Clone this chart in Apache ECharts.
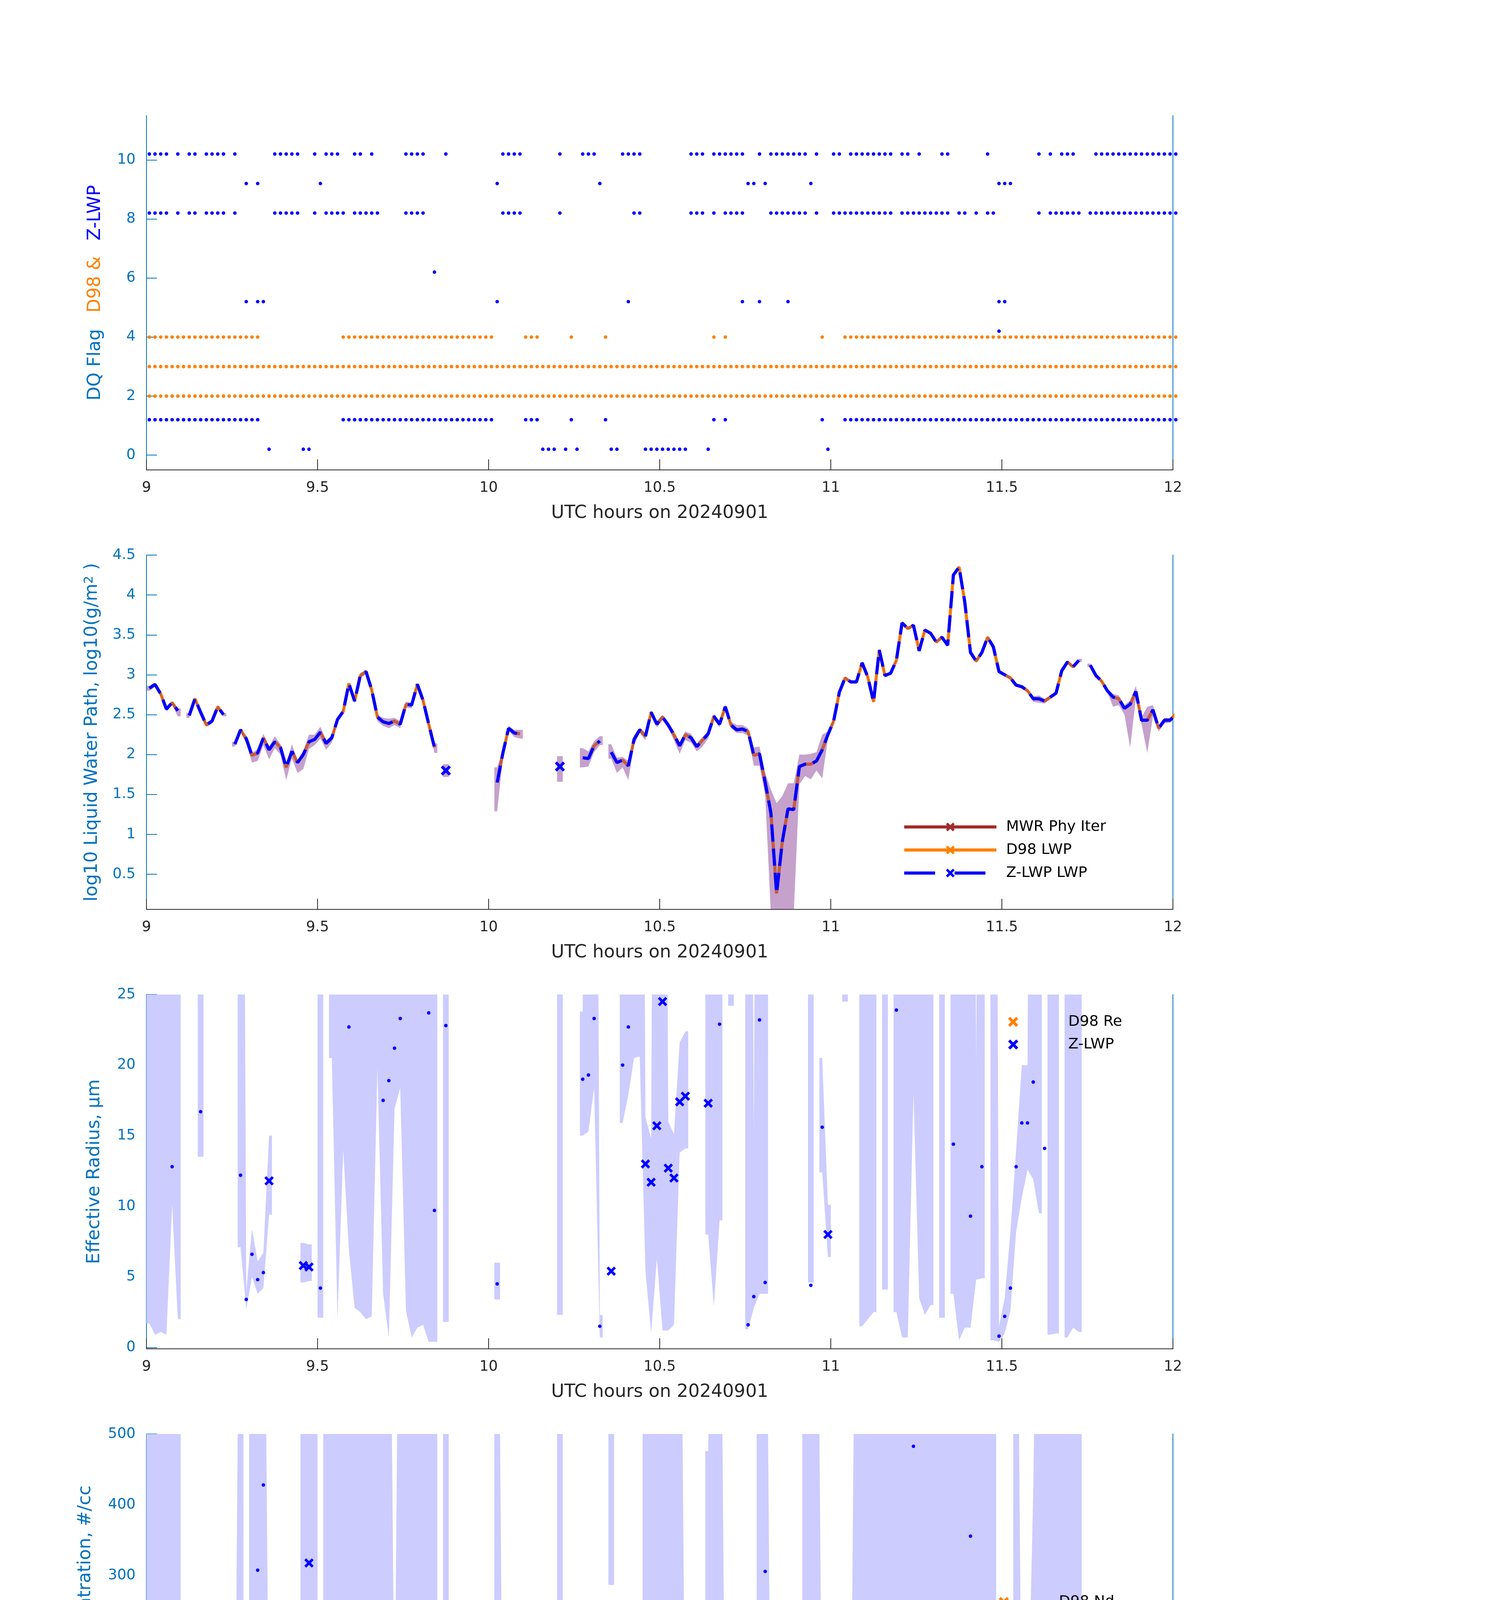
<!DOCTYPE html>
<html>
<head>
<meta charset="utf-8">
<script src="https://cdn.jsdelivr.net/npm/echarts@6.0.0/dist/echarts.min.js"></script>
<style>
  html, body { margin: 0; padding: 0; background: #fff; }
  #main { width: 3825px; height: 6000px; }
</style>
</head>
<body>
<div id="main"></div>
<script>
// samples are one per minute from 09:00 UTC, drawn at the middle of each minute
var START_HOUR = 9;

// ---- panel 1: data quality flags, as runs of minute indices per flag level ----
var zFlag10Runs = [[0,3],[5,5],[7,8],[10,13],[15,15],[22,26],[29,29],[31,33],[36,37],[39,39],[45,48],[52,52],[62,65],[72,72],[76,78],[83,86],[95,97],[99,104],[107,107],[109,115],[117,117],[120,121],[123,130],[132,133],[135,135],[139,140],[147,147],[156,156],[158,158],[160,162],[166,180]];
var zFlag9Runs = [[17,17],[19,19],[30,30],[61,61],[79,79],[105,106],[108,108],[116,116],[149,151]];
var zFlag8Runs = [[0,3],[5,5],[7,8],[10,13],[15,15],[22,26],[29,29],[31,34],[36,40],[45,48],[62,65],[72,72],[85,86],[95,97],[99,99],[101,104],[109,115],[117,117],[120,130],[132,140],[142,143],[145,145],[147,148],[156,156],[158,163],[165,180]];
var zFlag6Runs = [[50,50]];
var zFlag5Runs = [[17,17],[19,20],[61,61],[84,84],[104,104],[107,107],[112,112],[149,150]];
var zFlag4Runs = [[149,149]];
var zFlag1Runs = [[0,19],[34,60],[66,68],[74,74],[80,80],[99,99],[101,101],[118,118],[122,180]];
var zFlag0Runs = [[21,21],[27,28],[69,71],[73,73],[75,75],[81,82],[87,94],[98,98],[119,119]];
var d98Flag4Runs = [[0,19],[34,60],[66,68],[74,74],[80,80],[99,99],[101,101],[118,118],[122,180]];
var d98Flag3Runs = [[0,180]];
var d98Flag2Runs = [[0,180]];
var Z_FLAG_SHIFT = 0.2;

// ---- panel 2: log10 LWP (same retrieval shown for D98 and Z-LWP) ----
var lwpLog = [
  2.83,2.88,2.76,2.57,2.65,2.55,null,2.49,2.70,2.53,
  2.37,2.42,2.60,2.50,null,2.13,2.31,2.20,1.99,2.02,
  2.21,2.06,2.16,2.09,1.84,2.04,1.90,2.00,2.16,2.19,
  2.28,2.14,2.21,2.44,2.54,2.89,2.67,2.99,3.04,2.81,
  2.47,2.41,2.39,2.42,2.38,2.63,2.62,2.88,2.68,2.38,
  2.09,null,1.80,null,null,null,null,null,null,null,
  null,1.65,2.02,2.33,2.27,2.26,null,null,null,null,
  null,null,1.85,null,null,null,1.96,1.95,2.11,2.17,
  null,2.03,1.90,1.93,1.86,2.19,2.31,2.23,2.53,2.38,
  2.47,2.37,2.25,2.11,2.25,2.21,2.10,2.18,2.26,2.48,
  2.38,2.60,2.37,2.31,2.32,2.29,1.99,2.01,1.65,1.27,
  0.26,0.91,1.32,1.31,1.85,1.88,1.88,1.92,2.06,2.25,
  2.42,2.78,2.96,2.91,2.91,3.15,2.97,2.66,3.31,2.99,
  3.02,3.18,3.65,3.58,3.62,3.30,3.56,3.52,3.41,3.47,
  3.37,4.25,4.35,3.91,3.28,3.17,3.28,3.47,3.35,3.04,
  3.00,2.96,2.87,2.85,2.80,2.70,2.70,2.67,2.72,2.77,
  3.05,3.16,3.10,3.18,null,3.12,2.99,2.92,2.80,2.72,
  2.70,2.58,2.63,2.79,2.43,2.43,2.56,2.33,2.43,2.43,
  2.51
];
// uncertainty band: [minute, low, high]
var lwpBand = [
  [0,2.80,2.86],[1,2.85,2.90],[2,2.73,2.78],[3,2.54,2.60],[4,2.62,2.67],[5,2.48,2.58],
  [7,2.46,2.52],[8,2.67,2.72],[9,2.50,2.55],[10,2.35,2.40],[11,2.39,2.44],[12,2.57,2.62],[13,2.48,2.52],
  [15,2.10,2.16],[16,2.28,2.33],[17,2.14,2.22],[18,1.90,2.02],[19,1.92,2.07],[20,2.12,2.26],[21,1.94,2.10],
  [22,2.08,2.23],[23,2.00,2.13],[24,1.68,1.88],[25,1.95,2.13],[26,1.77,1.93],[27,1.82,2.05],[28,2.07,2.25],
  [29,2.12,2.25],[30,2.20,2.35],[31,2.06,2.18],[32,2.15,2.25],[33,2.40,2.47],[34,2.51,2.57],[35,2.86,2.91],
  [36,2.64,2.70],[37,2.96,3.02],[38,3.01,3.06],[39,2.78,2.84],[40,2.42,2.50],[41,2.36,2.46],[42,2.33,2.45],
  [43,2.37,2.46],[44,2.33,2.42],[45,2.59,2.66],[46,2.58,2.65],[47,2.85,2.90],[48,2.64,2.71],[49,2.34,2.42],
  [50,2.02,2.14],
  [52,1.72,1.88],
  [61,1.29,1.84],[62,1.95,2.06],[63,2.30,2.36],[64,2.22,2.31],[65,2.20,2.31],
  [72,1.66,1.98],
  [76,1.84,2.08],[77,1.85,2.04],[78,2.03,2.17],[79,2.12,2.23],
  [81,1.95,2.13],[82,1.77,1.96],[83,1.84,1.97],[84,1.68,1.92],[85,2.12,2.24],[86,2.27,2.34],[87,2.18,2.27],
  [88,2.49,2.56],[89,2.34,2.42],[90,2.43,2.50],[91,2.33,2.40],[92,2.18,2.28],[93,2.01,2.15],[94,2.18,2.29],
  [95,2.15,2.26],[96,2.04,2.14],[97,2.10,2.22],[98,2.20,2.30],[99,2.44,2.51],[100,2.34,2.42],[101,2.56,2.63],
  [102,2.33,2.41],[103,2.27,2.37],[104,2.27,2.37],[105,2.24,2.33],[106,1.86,2.09],[107,1.86,2.10],
  [108,1.49,1.77],[109,0.00,1.56],[110,0.00,1.39],[111,0.00,1.48],[112,0.00,1.64],[113,0.00,1.64],
  [114,1.63,2.00],[115,1.73,2.00],[116,1.69,2.01],[117,1.80,2.03],[118,1.70,2.25],[119,2.20,2.29],
  [120,2.38,2.45],[121,2.74,2.81],[122,2.94,2.98],[123,2.89,2.93],[124,2.89,2.93],[125,3.13,3.17],
  [126,2.95,2.99],[127,2.64,2.68],[128,3.29,3.33],[129,2.97,3.01],[130,3.00,3.04],[131,3.16,3.20],
  [132,3.63,3.67],[133,3.56,3.60],[134,3.60,3.64],[135,3.28,3.32],[136,3.54,3.58],[137,3.50,3.54],
  [138,3.39,3.43],[139,3.45,3.49],[140,3.35,3.39],[141,4.23,4.27],[142,4.33,4.37],[143,3.89,3.93],
  [144,3.26,3.30],[145,3.15,3.19],[146,3.26,3.30],[147,3.45,3.49],[148,3.33,3.37],[149,3.02,3.06],
  [150,2.98,3.02],[151,2.94,2.98],[152,2.85,2.89],[153,2.83,2.87],[154,2.78,2.82],[155,2.66,2.73],
  [156,2.65,2.74],[157,2.64,2.70],[158,2.70,2.74],[159,2.75,2.79],[160,3.03,3.07],[161,3.14,3.18],
  [162,3.08,3.12],[163,3.16,3.20],
  [165,3.10,3.14],[166,2.97,3.01],[167,2.90,2.94],[168,2.78,2.82],[169,2.60,2.76],[170,2.62,2.74],
  [171,2.50,2.62],[172,2.09,2.68],[173,2.70,2.86],[174,2.38,2.47],[175,2.02,2.60],[176,2.48,2.62],
  [177,2.29,2.37],[178,2.39,2.46],[179,2.40,2.46],[180,2.47,2.54]
];

// ---- panel 3: effective radius (um); [minute, value] ----
var reDots = [[4,12.8],[9,16.7],[16,12.2],[17,3.4],[18,6.6],[19,4.8],[20,5.3],[30,4.2],[35,22.7],[41,17.5],[42,18.9],[43,21.2],[44,23.3],[49,23.7],[50,9.7],[52,22.8],[61,4.5],[76,19.0],[77,19.3],[78,23.3],[79,1.5],[83,20.0],[84,22.7],[100,22.9],[105,1.6],[106,3.6],[107,23.2],[108,4.6],[116,4.4],[118,15.6],[131,23.9],[141,14.4],[144,9.3],[146,12.8],[149,0.8],[150,2.2],[151,4.2],[152,12.8],[153,15.9],[154,15.9],[155,18.8],[157,14.1]];
var reCross = [[21,11.8],[27,5.8],[28,5.7],[81,5.4],[87,13.0],[88,11.7],[89,15.7],[90,24.5],[91,12.7],[92,12.0],[93,17.4],[94,17.8],[98,17.3],[119,8.0]];
var reBand = [
  [0,1.7,99],[1,0.9,99],[2,1.1,99],[3,0.9,99],[4,10.1,99],[5,2.0,99],
  [9,13.5,99],
  [16,7.1,99],[17,2.7,4.0],[18,5.0,8.4],[19,3.8,6.1],[20,4.2,6.7],[21,9.4,15.0],
  [27,4.6,7.4],[28,4.7,7.3],
  [30,2.1,99],
  [32,20.5,99],[33,2.0,99],[34,14,99],[35,6.9,99],[36,2.8,99],[37,2.5,99],[38,2.0,99],[39,2.2,99],
  [40,19.8,99],[41,3.8,99],[42,0.7,99],[43,16.9,99],[44,18.4,99],[45,2.6,99],[46,0.7,99],[47,1.4,99],
  [48,1.6,99],[49,0.4,99],[50,0.4,99],
  [52,1.8,99],
  [61,3.4,6.0],
  [72,2.3,99],
  [76,15.0,23.8],[77,15.3,99],[78,18.4,99],[79,0.7,2.3],
  [83,15.9,99],[84,17.9,99],[85,20.5,99],[86,20.6,99],[87,5.4,16.3],[88,1.0,14.8],[89,6.3,99],
  [90,1.2,99],[91,1.2,16.0],[92,1.6,15.1],[93,13.8,21.6],[94,14.1,22.4],
  [98,8.0,99],[99,2.9,99],[100,9,99],
  [102,24.2,99],
  [105,1.3,99],[106,2.8,15],[107,3.8,99],[108,3.8,99],
  [116,4.6,99],
  [118,12.4,20.5],[119,6.4,10.1],
  [122,24.5,99],
  [125,1.5,99],[126,2.0,99],[127,2.5,99],
  [129,4.1,99],
  [131,2.5,99],[132,0.7,99],[133,0.7,99],[134,18.0,99],[135,3.5,99],[136,2.3,99],[137,3.0,99],
  [139,2.1,99],
  [141,3.8,99],[142,0.5,99],[143,1.4,99],[144,1.4,99],[145,4.8,20],[146,4.9,99],
  [148,0.5,99],[149,0.4,1.5],[150,1.0,3.5],[151,2.6,8.2],[152,8.2,14],[153,10.6,20.0],[154,12.6,20.0],
  [155,11.9,99],[156,9.5,99],
  [158,0.9,99],[159,1.0,99],
  [161,0.7,99],[162,1.4,99],[163,1.1,99]
];

// ---- panel 4: droplet concentration (#/cc) ----
var ndDots = [[0,3.5],[1,1.5],[2,0.4],[3,1.2],[4,192.6],[5,2],[7,0.4],[8,1.2],[9,34.4],[10,2.3],[11,0.4],[12,0.4],[13,0.4],[15,0.4],[16,60.7],[18,71.2],[19,307.8],[20,428],[22,0.4],[23,0.4],[24,0.4],[25,0.4],[26,0.4],[29,0.4],[31,0.4],[32,1.5],[33,0.4],[34,14.7],[35,64],[36,0.4],[37,0.4],[38,50],[39,0.4],[40,8.5],[41,36.3],[42,14.7],[43,34.8],[44,42.5],[45,0.4],[46,0.4],[47,1],[48,0.4],[49,20.9],[50,123],[52,3],[61,188.7],[62,0.4],[63,0.4],[64,0.4],[65,0.4],[72,0.4],[76,1.9],[77,3],[78,1.5],[83,1.2],[84,1.2],[85,1.2],[86,1.2],[95,0.4],[96,0.4],[97,0.4],[99,0.8],[100,5],[101,1.9],[102,1.9],[103,0.8],[104,0.8],[107,1.5],[108,306],[109,0.8],[110,0.8],[111,0.8],[112,0.4],[113,0.4],[114,0.4],[115,0.4],[117,0.4],[118,7.7],[120,1.9],[121,1.9],[122,25.5],[123,3],[124,0.4],[125,1.5],[126,0.4],[127,0.4],[128,1.2],[129,0.4],[130,0.4],[131,178],[132,1.9],[133,1.9],[134,482.6],[135,0.8],[136,12.8],[137,41],[138,44.9],[139,1.2],[140,1.2],[142,50.7],[143,7.3],[144,355.8],[145,44.9],[147,1.9],[148,14.7],[152,41.4],[153,16.6],[154,16.6],[155,12.8],[156,1.2],[158,0.4],[160,0.4],[161,0.4],[162,1.2],[163,58.8],[165,26.7],[166,0.4],[167,1.2],[168,1.2],[169,1.5],[170,1.9],[171,1.5],[172,1.2],[173,1.2],[174,0.4],[175,0.4],[176,0.4],[177,0.4],[178,0.4],[179,0.4],[180,0.4]];
var ndCross = [[21,10.8],[27,248.6],[28,318],[87,20],[88,47],[89,19],[90,13.5],[91,36.3],[92,19],[93,16],[94,7.3],[98,22.8],[119,107]];
var ndBand = [
  [0,0.5,999],[1,0.5,999],[2,0.5,999],[3,0.5,999],[4,0.5,999],[5,0.5,999],
  [8,0.5,1.5],[9,0.5,68],[10,0.5,1.5],
  [15,0.5,1.5],[16,30,999],
  [18,35,999],[19,146,999],[20,205,999],[21,0,22],
  [27,102,999],[28,153,999],[29,10,999],
  [31,37,999],[32,0.5,999],[33,0.5,999],[34,0.5,999],[35,0.5,999],[36,0.5,999],[37,0.5,999],[38,0.5,999],
  [39,0.5,999],[40,0.5,999],[41,3,999],[42,5,999],[43,1,80],[44,1,999],[45,0.5,999],[46,0.5,999],
  [47,0.5,999],[48,0.5,999],[49,8.5,999],[50,60,999],
  [52,0,999],
  [61,36,999],[62,0.5,1.5],
  [72,0.5,999],
  [76,0.5,4],[77,0.5,5],[78,0.5,3],
  [81,287,999],
  [87,12,999],[88,18,999],[89,18,999],[90,14,999],[91,31.7,999],[92,16,999],[93,29.8,999],[94,1,12.4],[95,0.5,1],
  [98,0.5,476],[99,0.5,999],[100,0.5,999],[101,0.5,2],
  [107,0.5,999],[108,18,999],[109,0.5,1],
  [115,0.5,999],[116,262,999],[117,0.5,999],[118,0.5,18],[119,54,214],
  [121,0.5,1],[122,0.5,49],[123,0.5,2],
  [124,0.5,999],[125,0.5,999],[126,0.5,999],[127,0.5,999],[128,0.5,999],[129,0.5,999],[130,0.5,999],
  [131,0.5,999],[132,0.5,999],[133,0.5,999],[134,0.5,999],[135,0.5,999],[136,0.5,999],[137,0.5,999],
  [138,0.5,999],[139,0.5,999],[140,0.5,999],[141,0.5,999],[142,25,999],[143,3,999],[144,177,999],
  [145,22,999],[146,0.5,999],[147,0.5,999],[148,0.5,999],
  [152,14,999],[153,5,33],[154,3,60],[155,2,418],[156,0.5,999],[157,0.5,999],[158,0.5,999],
  [159,0.5,999],[160,0.5,999],[161,0.5,999],[162,0.5,999],[163,0.5,999],
  [165,0.5,53],[166,0.5,1]
];

// ---- panel 5: optical depth ----
var odDots = [[0,23.8],[1,19.8],[2,11.3],[3,12.8],[4,52.5],[5,15.6],[7,5.3],[8,12.9],[9,30.1],[10,10.8],[11,6.9],[12,7.5],[13,10.6],[15,4.3],[16,25.8],[17,71.4],[18,22.4],[19,34.6],[20,47.6],[22,5.3],[23,3.6],[24,2.7],[25,4.1],[26,2.3],[29,5.2],[30,69.8],[31,5.4],[32,8.2],[33,5.9],[34,17.1],[35,52.3],[36,9.1],[37,11.1],[38,45.6],[39,15],[40,17.7],[41,22.4],[42,21.3],[43,19.3],[44,15.8],[45,7.2],[46,11],[47,17.5],[48,14.2],[49,15],[50,20.1],[52,4.3],[61,15.2],[62,4.1],[63,5.4],[64,4.6],[65,4.6],[72,2.9],[76,7.4],[77,7.3],[78,8.4],[83,6.7],[84,4.9],[85,9.4],[86,11.8],[95,4.0],[96,3.2],[97,4.9],[99,9.1],[100,16.1],[101,16.1],[102,11.8],[103,6.3],[104,6.7],[106,39.2],[107,6.6],[108,12.5],[109,0.6],[110,0.1],[111,0.1],[112,0.2],[113,0.2],[114,1.2],[115,1.5],[116,25.6],[117,1.3],[118,11.1],[120,9.1],[121,16.2],[122,45.7],[123,31.7],[124,13.4],[125,28.2],[126,14.1],[127,5.3],[128,30.1],[129,12.3],[130,13.1],[133,78.6],[135,43.2],[139,53.5],[140,38.2],[145,92.4],[147,57.2],[148,69],[152,88.6],[153,68.1],[154,59.1],[155,42.2],[156,14.2],[157,51],[158,5.9],[159,20.2],[160,11.1],[161,16.1],[162,25.9],[163,68.6],[165,46.5],[166,15.4],[167,22.9],[168,24.1],[169,23.8],[170,24.2],[171,19.6],[172,18.8],[173,23.1],[174,6.5],[175,6.1],[176,9.1],[177,5.2],[178,5.2],[179,4.3],[180,8.2]];
var odCross = [[21,14.8],[27,26],[28,38.9],[81,31.2],[87,20],[88,43.8],[89,23.2],[90,18.4],[91,29.9],[92,20.8],[93,11.3],[94,15.5],[98,16.4],[119,31.7]];
var odBand = [
  [0,10.3,999],[1,13.4,999],[2,9.9,999],[3,7.2,999],[4,9.1,999],[5,9.9,999],
  [7,4.1,6.6],[8,8.7,16.5],[9,15.7,37.4],[10,8.4,13.4],[11,5.6,8.7],[12,6.0,9.5],[13,8.6,13.4],
  [15,3.7,5.3],[16,20,30],[17,54.4,89.7],[18,17.2,24],[19,24.2,35.8],[20,37.7,59.2],[21,10.4,19.9],
  [22,4.1,6.6],[23,2.8,4.5],[24,1.6,3.2],[25,2.8,5.2],[26,1.5,3.1],[27,14.7,39.4],[28,29.2,49.6],
  [29,4.2,6.3],[30,52,999],[31,4.9,7],[32,6.8,999],[33,4.9,999],[34,5.9,999],[35,23,999],[36,7.2,999],
  [37,9.4,999],[38,11.4,999],[39,11,999],[40,10.7,999],[41,15.7,999],[42,16,999],[43,15.7,24.2],
  [44,5.0,999],[45,5.8,999],[46,8.7,999],[47,13.8,999],[48,11.4,999],[49,11.4,999],[50,15.9,999],
  [52,3.4,50.4],
  [61,5.2,27.3],[62,3.8,4.8],[63,4.2,6.4],[64,4.0,5.7],[65,4.0,5.7],
  [72,1.7,46.3],
  [76,5.0,10.3],[77,5.3,9.4],[78,6.4,10.3],[79,6.8,999],
  [81,22.5,40.8],
  [83,3.6,8.6],[84,2.8,8.4],[85,6.6,11.8],[86,10.8,14.9],[87,15.7,48],[88,34.6,999],[89,19.6,999],
  [90,14.5,999],[91,23.8,999],[92,14.9,999],[93,8.4,15],[94,11.8,19.6],[95,3.6,5.1],[96,3.1,4.2],
  [97,3.9,6.1],[98,5.8,35.2],[99,7.3,999],[100,8.4,999],[101,13,20],[102,8.7,14.9],[103,5.1,8.1],
  [104,5.5,8.6],[105,10,999],[106,25,999],[107,4.3,20],[108,1.8,26.1],[109,0,1.5],[110,0,0.6],
  [111,0,0.3],[112,0,0.3],[113,0,0.8],[114,0.5,1.8],[115,0.6,2.3],[116,14.2,38.1],[117,1.3,2],
  [118,3.7,20],[119,25.1,39.9],[120,7.6,11.4],[121,13,20],[122,22.8,57.5],[123,24.8,40],[124,11.1,999],
  [125,17.6,999],[126,11.4,999],[127,5.8,999],[128,19.6,999],[129,9.9,999],[130,9.7,999],[131,28,999],
  [132,79.9,999],[133,62.9,999],[134,78,999],[135,34.6,999],[136,48.2,999],[137,48.3,999],[138,40,999],
  [139,42.4,999],[140,31.2,999],
  [145,65,999],[146,36,999],[147,40.8,999],[148,54.4,999],
  [152,74.5,999],[153,55.9,85.9],[154,47.8,80.3],[155,26.5,84.4],[156,11.8,999],[157,8.4,999],
  [158,5.0,999],[159,7.6,999],[160,11.1,999],[161,13,999],[162,13.4,999],[163,21.9,999],
  [165,14.8,58.4],[166,12.8,19.6],[167,18.8,29],[168,19.3,30.2],[169,18.4,30],[170,18.8,30.2],
  [171,15.3,26.1],[172,3.3,38.5],[173,19.2,28.5],[174,2.8,8.9],[175,1.8,5.5],[176,7,11.5],
  [177,4.5,6.5],[178,4.5,6.5],[179,3.8,5.2],[180,7.5,10.1]
];

// ---- look ----
var FONT = 'DejaVu Sans';
var AXIS_BLUE = '#0072BD';
var INK = '#262626';
var BLUE = '#0000FF';
var ORANGE = '#FF8000';
var MWR_RED = '#A32A2A';
var BAND_LWP = 'rgba(126,47,142,0.45)';
var BAND_RET = '#CCCCFF';
var X_MARK = 'path://M0,4L4,0L10,6L16,0L20,4L14,10L20,16L16,20L10,14L4,20L0,16L6,10Z';
var GRID_LEFT = 375, GRID_WIDTH = 2628, GRID_HEIGHT = 907;
var GRID_TOPS = [296, 1421, 2546, 3671, 4795];

function hour(i) { return START_HOUR + (i + 0.5) / 60; }

function runsToPoints(runs, level) {
  var out = [];
  runs.forEach(function (r) {
    for (var i = r[0]; i <= r[1]; i++) out.push([hour(i), level]);
  });
  return out;
}

function pairsToPoints(pairs) {
  return pairs.map(function (p) { return [hour(p[0]), p[1]]; });
}

function seriesToPoints(arr) {
  return arr.map(function (v, i) { return [hour(i), v]; });
}

// points that have no neighbour on either side are shown as markers
function isolatedPoints(arr) {
  var out = [];
  arr.forEach(function (v, i) {
    if (v == null) return;
    var prev = i > 0 ? arr[i - 1] : null;
    var next = i < arr.length - 1 ? arr[i + 1] : null;
    if (prev == null && next == null) out.push([hour(i), v]);
  });
  return out;
}

// shaded band between low and high, one polygon per contiguous run of minutes
function bandSeries(band, k, color, z) {
  var segs = [];
  var cur = null;
  band.forEach(function (p) {
    if (cur && p[0] === cur[cur.length - 1][0] + 1) cur.push(p);
    else { cur = [p]; segs.push(cur); }
  });
  var half = 0.5 / 60;
  return {
    type: 'custom', xAxisIndex: k, yAxisIndex: 2 * k, z: z, silent: true, clip: true,
    data: segs.map(function (s, n) { return [hour(s[0][0]), s[0][1], n]; }),
    encode: { x: 0, y: 1 },
    renderItem: function (params, api) {
      var seg = segs[params.dataIndex];
      var top = [], bot = [];
      seg.forEach(function (p, j) {
        var t = hour(p[0]);
        if (j === 0) {
          top.push(api.coord([t - half, p[2]]));
          bot.push(api.coord([t - half, p[1]]));
        }
        top.push(api.coord([t, p[2]]));
        bot.push(api.coord([t, p[1]]));
        if (j === seg.length - 1) {
          top.push(api.coord([t + half, p[2]]));
          bot.push(api.coord([t + half, p[1]]));
        }
      });
      var cs = params.coordSys;
      return {
        type: 'polygon',
        shape: { points: top.concat(bot.reverse()) },
        style: { fill: color },
        clipPath: { type: 'rect', shape: { x: cs.x, y: cs.y, width: cs.width, height: cs.height } }
      };
    }
  };
}

function xAxisFor(k) {
  return {
    type: 'value', gridIndex: k, min: 9, max: 12, interval: 0.5, position: 'bottom',
    name: 'UTC hours on 20240901', nameLocation: 'middle', nameGap: 88,
    nameTextStyle: { fontSize: 46, color: INK, fontFamily: FONT },
    axisLine: { show: true, onZero: false, lineStyle: { color: INK, width: 2 } },
    axisTick: { show: true, inside: true, length: 27, lineStyle: { color: INK, width: 2 } },
    axisLabel: { fontSize: 37, color: INK, margin: 28, fontFamily: FONT },
    splitLine: { show: false }
  };
}

function yAxisLeft(k, min, max, ticks, name, gap, rich) {
  return {
    type: 'value', gridIndex: k, min: min, max: max, position: 'left',
    name: name, nameLocation: 'middle', nameRotate: 90, nameGap: gap,
    nameTextStyle: { fontSize: 46, color: AXIS_BLUE, fontFamily: FONT, rich: rich || {} },
    axisLine: { show: true, onZero: false, lineStyle: { color: AXIS_BLUE, width: 2 } },
    axisTick: { show: true, inside: true, length: 27, lineStyle: { color: AXIS_BLUE, width: 2 }, customValues: ticks },
    axisLabel: { fontSize: 37, color: AXIS_BLUE, margin: 28, fontFamily: FONT, customValues: ticks },
    splitLine: { show: false }
  };
}

function yAxisRight(k, min, max) {
  return {
    type: 'value', gridIndex: k, min: min, max: max, position: 'right',
    axisLine: { show: true, onZero: false, lineStyle: { color: AXIS_BLUE, width: 2 } },
    axisTick: { show: false }, axisLabel: { show: false }, splitLine: { show: false }
  };
}

function scatter(name, k, data, color, symbol, size, z) {
  return {
    type: 'scatter', name: name, xAxisIndex: k, yAxisIndex: 2 * k, data: data,
    symbol: symbol, symbolSize: size, itemStyle: { color: color, opacity: 1 },
    clip: false, silent: true, z: z || 5
  };
}

// marker-only legend; markerX is the centre of the marker, textX where the label starts
function markerLegend(markerX, firstRowY, names, textX) {
  var box = 26;
  return {
    orient: 'vertical', left: markerX - box / 2, top: firstRowY - 19,
    itemWidth: box, itemHeight: box, itemGap: 20,
    selectedMode: false, data: names, icon: X_MARK,
    textStyle: {
      fontSize: 38, color: '#000', fontFamily: FONT, lineHeight: 38,
      padding: [0, 0, 0, textX - (markerX + box / 2 + 5)]
    }
  };
}

var zFlagPoints = [].concat(
  runsToPoints(zFlag10Runs, 10 + Z_FLAG_SHIFT),
  runsToPoints(zFlag9Runs, 9 + Z_FLAG_SHIFT),
  runsToPoints(zFlag8Runs, 8 + Z_FLAG_SHIFT),
  runsToPoints(zFlag6Runs, 6 + Z_FLAG_SHIFT),
  runsToPoints(zFlag5Runs, 5 + Z_FLAG_SHIFT),
  runsToPoints(zFlag4Runs, 4 + Z_FLAG_SHIFT),
  runsToPoints(zFlag1Runs, 1 + Z_FLAG_SHIFT),
  runsToPoints(zFlag0Runs, 0 + Z_FLAG_SHIFT)
);
var d98FlagPoints = [].concat(
  runsToPoints(d98Flag4Runs, 4),
  runsToPoints(d98Flag3Runs, 3),
  runsToPoints(d98Flag2Runs, 2)
);

var lwpPoints = seriesToPoints(lwpLog);

var option = {
  animation: false,
  backgroundColor: '#ffffff',
  textStyle: { fontFamily: FONT },
  grid: GRID_TOPS.map(function (t) {
    return { left: GRID_LEFT, top: t, width: GRID_WIDTH, height: GRID_HEIGHT, containLabel: false };
  }),
  xAxis: [0, 1, 2, 3, 4].map(xAxisFor),
  yAxis: [
    yAxisLeft(0, -0.5, 11.5, [0, 2, 4, 6, 8, 10], '{a|DQ Flag}{b|D98 &}{c|Z-LWP}', 108, {
      a: { fontSize: 46, color: AXIS_BLUE, fontFamily: FONT },
      b: { fontSize: 46, color: ORANGE, fontFamily: FONT, padding: [0, 40, 0, 42] },
      c: { fontSize: 46, color: BLUE, fontFamily: FONT }
    }),
    yAxisRight(0, -0.5, 11.5),
    yAxisLeft(1, 0.06, 4.5, [0.5, 1, 1.5, 2, 2.5, 3, 3.5, 4, 4.5],
      '{a|log10 Liquid Water Path, log10(g/m}{s|2}{a| )}', 116, {
      a: { fontSize: 46, color: AXIS_BLUE, fontFamily: FONT },
      s: { fontSize: 32, color: AXIS_BLUE, fontFamily: FONT, verticalAlign: 'top' }
    }),
    yAxisRight(1, 0.06, 4.5),
    yAxisLeft(2, -0.1, 25, [0, 5, 10, 15, 20, 25], 'Effective Radius, \u03bcm', 110),
    yAxisRight(2, -0.1, 25),
    yAxisLeft(3, 0, 500, [0, 100, 200, 300, 400, 500], 'Droplet Concentration, #/cc', 133),
    yAxisRight(3, 0, 500),
    yAxisLeft(4, 0, 100, [0, 20, 40, 60, 80, 100], 'Optical Depth', 133),
    yAxisRight(4, 0, 100)
  ],
  legend: [
    {
      orient: 'vertical', left: 2306, top: 2093, itemWidth: 236, itemHeight: 28, itemGap: 21,
      selectedMode: false,
      lineStyle: { width: 8 },
      data: [
        { name: 'MWR Phy Iter' },
        { name: 'D98 LWP' },
        { name: 'Z-LWP LWP', lineStyle: { type: [79, 50] } }
      ],
      textStyle: { fontSize: 38, color: '#000', fontFamily: FONT, lineHeight: 38, padding: [0, 0, 0, 20] }
    },
    markerLegend(2589, 2611, ['D98 Re', 'Z-LWP'], 2730),
    markerLegend(2565, 4096, ['D98 Nd', 'Z-LWP Nd'], 2706),
    markerLegend(1251, 4862, ['D98 OD', 'Z-LWP Nd'], 1393)
  ],
  series: [
    // panel 1
    scatter('Z-LWP flag', 0, zFlagPoints, BLUE, 'circle', 9, 5),
    scatter('D98 flag', 0, d98FlagPoints, ORANGE, 'circle', 9, 5),

    // panel 2
    {
      type: 'line', name: 'MWR Phy Iter', xAxisIndex: 1, yAxisIndex: 2, data: [],
      symbol: X_MARK, showSymbol: false, itemStyle: { color: MWR_RED },
      lineStyle: { color: MWR_RED, width: 8 }, z: 2
    },
    {
      type: 'line', name: 'D98 LWP', xAxisIndex: 1, yAxisIndex: 2, data: lwpPoints,
      symbol: X_MARK, showSymbol: false, connectNulls: false, itemStyle: { color: ORANGE },
      lineStyle: { color: ORANGE, width: 8 }, z: 2, silent: true
    },
    bandSeries(lwpBand, 1, BAND_LWP, 3),
    {
      type: 'line', name: 'Z-LWP LWP', xAxisIndex: 1, yAxisIndex: 2, data: lwpPoints,
      symbol: X_MARK, showSymbol: false, connectNulls: false, itemStyle: { color: BLUE },
      lineStyle: { color: BLUE, width: 8, type: [44, 18] }, z: 4, silent: true
    },
    scatter('', 1, isolatedPoints(lwpLog), BLUE, X_MARK, 26, 5),

    // panel 3
    bandSeries(reBand, 2, BAND_RET, 1),
    scatter('D98 Re', 2, [], ORANGE, X_MARK, 24, 5),
    scatter('', 2, pairsToPoints(reDots), BLUE, 'circle', 9, 5),
    scatter('Z-LWP', 2, pairsToPoints(reCross), BLUE, X_MARK, 24, 5),

    // panel 4
    bandSeries(ndBand, 3, BAND_RET, 1),
    scatter('D98 Nd', 3, [], ORANGE, X_MARK, 24, 5),
    scatter('', 3, pairsToPoints(ndDots), BLUE, 'circle', 9, 5),
    scatter('Z-LWP Nd', 3, pairsToPoints(ndCross), BLUE, X_MARK, 24, 5),

    // panel 5
    bandSeries(odBand, 4, BAND_RET, 1),
    scatter('D98 OD', 4, [], ORANGE, X_MARK, 24, 5),
    scatter('', 4, pairsToPoints(odDots), BLUE, 'circle', 9, 5),
    scatter('Z-LWP Nd', 4, pairsToPoints(odCross), BLUE, X_MARK, 24, 5)
  ]
};

var chart = echarts.init(document.getElementById('main'), null, { renderer: 'canvas' });
chart.setOption(option);
</script>
</body>
</html>
